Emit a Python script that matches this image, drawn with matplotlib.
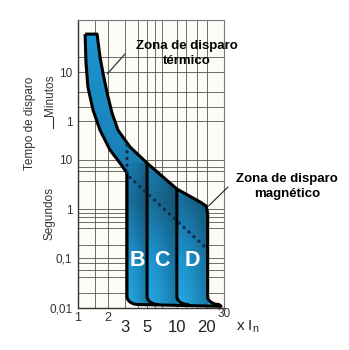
import numpy as np
import matplotlib
matplotlib.use("Agg")
import matplotlib.pyplot as plt
from matplotlib.path import Path
from matplotlib.patches import PathPatch
from matplotlib.colors import LinearSegmentedColormap
from matplotlib.lines import Line2D

plt.rcParams["font.family"] = ["Liberation Sans", "DejaVu Sans"]

# thermal band (x = multiples of In, t in seconds)
upper_x = [1.56, 1.67, 1.79, 1.97, 2.21, 2.54, 3.36, 4.99, 7.25, 10.0, 17.2, 19.8]
upper_t = [3570, 1220, 577, 227, 89, 40, 18.2, 8.6, 4.47, 2.55, 1.39, 1.15]
lower_x = [1.18, 1.205, 1.26, 1.42, 1.67, 2.11, 2.66, 3.13]
lower_t = [3570, 921, 300, 102, 40, 15.8, 8.6, 5.4]

# magnetic limits of the B / C / D curves
mag_x = [3.13, 5.0, 10.0, 20.5]
mag_names = ["B", "C", "D"]
d_top_t = 0.83        # where the D edge starts to drop
t_knee = 0.0168       # bottom rounding starts
t_floor = 0.0115      # bottom line of the curves
tail_x = 28

# dotted line (inner limit)
dot_x = [3.13, 3.13, 19.3]
dot_t = [20, 5.0, 0.17]

# grid and ticks
grid_x = [1.5, 2, 3, 4, 5, 6, 7, 10, 12.5, 16, 20]
grid_t = [0.02, 0.042, 0.057, 0.08, 0.1, 0.19, 0.41, 0.55, 0.7, 0.84, 1,
          3.7, 5.8, 7.3, 10, 60, 120, 240, 600, 1200]
ytick_t = [600, 60, 10, 1, 0.1, 0.01]
ytick_lbl = ["10", "1", "10", "1", "0,1", "0,01"]
xtick_big = [3, 5, 10, 20]
xtick_small = [1, 2]

XMIN, XMAX, TMIN, TMAX = 1, 30, 0.01, 6900


def corner(x0, t0, x1, t1, n=10):
    # quarter ellipse in log space: vertical tangent at start, horizontal at end
    a = np.linspace(0, np.pi / 2, n)
    lx0, lt0, lx1, lt1 = np.log10([x0, t0, x1, t1])
    lx = lx1 - (lx1 - lx0) * np.cos(a)
    lt = lt0 - (lt0 - lt1) * np.sin(a)
    return list(10 ** lx), list(10 ** lt)


def xfrac(v):
    return np.log10(v / XMIN) / np.log10(XMAX / XMIN)


fig = plt.figure(figsize=(3.49, 3.50), dpi=100)
ax = fig.add_axes([78 / 349, 42.5 / 350, 146 / 349, 287.5 / 350])
ax.set_xscale("log")
ax.set_yscale("log")
ax.set_facecolor("#fcfbf6")

for gx in grid_x:
    ax.axvline(gx, color="#555555", lw=0.6, zorder=1)
for gt in grid_t:
    ax.axhline(gt, color="#555555", lw=0.6, zorder=1)

# outline of the whole zone
xs, ts = [], []
xs += lower_x[:1] + upper_x
ts += lower_t[:1] + upper_t
xs += [mag_x[-1], mag_x[-1]]
ts += [d_top_t, t_knee]
cx, ct = corner(mag_x[-1], t_knee, mag_x[-1] * 1.3, t_floor)
xs += cx + [tail_x]
ts += ct + [t_floor * 0.92]
cx, ct = corner(mag_x[0], t_knee, mag_x[0] * 1.3, t_floor)
xs += cx[::-1] + [mag_x[0]]
ts += ct[::-1] + [lower_t[-1]]
xs += lower_x[::-1]
ts += lower_t[::-1]
outline = Path(np.column_stack([xs, ts]))

clip = PathPatch(outline, facecolor="none", edgecolor="none",
                 transform=ax.transData)
ax.add_patch(clip)
cmap = LinearSegmentedColormap.from_list("blu", [
    (0.0, "#24a8e4"), (0.15, "#1f9ad6"), (0.37, "#1a6f9c"),
    (0.55, "#1b82b9"), (1.0, "#1c98d4")])
grad = np.linspace(0, 1, 256).reshape(-1, 1)
im = ax.imshow(grad, cmap=cmap, origin="lower", extent=[0, 1, 0, 1],
               transform=ax.transAxes, aspect="auto", zorder=2)
im.set_clip_path(clip)

# each B/C/D strip gets darker towards its right edge
shade = np.zeros((1, 64, 4))
shade[0, :, 3] = np.linspace(0.0, 0.28, 64) ** 1.5 / 0.28 ** 0.5
for a, b in zip(mag_x[:-1], mag_x[1:]):
    sh = ax.imshow(shade, extent=[xfrac(a), xfrac(b), 0, 0.5],
                   transform=ax.transAxes, aspect="auto", zorder=3)
    sh.set_clip_path(clip)
ax.set_xlim(XMIN, XMAX)
ax.set_ylim(TMIN, TMAX)

ax.add_patch(PathPatch(outline, facecolor="none", edgecolor="black", lw=2.2,
                       joinstyle="round", zorder=4))

# inner limits at 5 and 10 In
lux, lut = np.log10(upper_x), np.log10(upper_t)
for mx in mag_x[1:3]:
    top = 10 ** np.interp(np.log10(mx), lux, lut)
    cx, ct = corner(mx, t_knee, mx * 1.3, t_floor)
    ax.plot([mx] + cx, [top] + ct, color="black", lw=2.2,
            solid_capstyle="round", zorder=4)

ax.plot(dot_x, dot_t, color="#0d2a4a", lw=2.3, ls=(0, (0.1, 2.0)),
        dash_capstyle="round", zorder=5)

for name, a, b in zip(mag_names, mag_x[:-1], mag_x[1:]):
    ax.text(np.sqrt(a * b), 0.092, name, color="white", fontsize=15.5,
            fontweight="bold", ha="center", va="center", zorder=6)

# axes cosmetics
for side in ["top", "right"]:
    ax.spines[side].set_color("#777777")
    ax.spines[side].set_linewidth(0.8)
for side in ["left", "bottom"]:
    ax.spines[side].set_color("#333333")
    ax.spines[side].set_linewidth(1.0)
ax.minorticks_off()
ax.set_xticks([])
ax.set_yticks(ytick_t, ytick_lbl)
ax.tick_params(axis="y", length=0, pad=4, labelsize=8.5, labelcolor="#333333")

xt = ax.get_xaxis_transform()
for v in xtick_small:
    ax.text(v, -0.036, str(v), transform=xt, ha="center", va="center",
            fontsize=9, color="#333333", clip_on=False)
for v in xtick_big:
    ax.text(v, -0.068, str(v), transform=xt, ha="center", va="center",
            fontsize=12, color="#222222", clip_on=False)
ax.text(30, -0.024, "30", transform=xt, ha="center", va="center",
        fontsize=8.5, color="#333333", clip_on=False)
fig.text(248 / 349, 1 - 327 / 350, r"x I$_\mathregular{n}$", ha="center",
         va="center", fontsize=11, color="#222222")

# axis titles
fig.text(30 / 349, 1 - 123 / 350, "Tempo de disparo", rotation=90,
         ha="center", va="center", fontsize=8.5, color="#333333")
fig.text(50 / 349, 1 - 95 / 350, "Minutos", rotation=90,
         ha="center", va="center", fontsize=8.5, color="#333333")
fig.text(50 / 349, 1 - 214 / 350, "Segundos", rotation=90,
         ha="center", va="center", fontsize=8.5, color="#333333")
fig.add_artist(Line2D([53 / 349, 53 / 349], [1 - 117 / 350, 1 - 128 / 350],
                      color="#333333", lw=0.8, transform=fig.transFigure))

# zone labels with leader lines
fig.text(187 / 349, 1 - 53.5 / 350, "Zona de disparo\ntérmico",
         ha="center", va="center", fontsize=9.5, fontweight="bold",
         linespacing=1.25)
ax.annotate("", xy=(1.97, 551), xytext=(125, 350 - 54),
            textcoords="figure pixels",
            arrowprops=dict(arrowstyle="-", color="#222222", lw=0.8,
                            shrinkA=0, shrinkB=0))
fig.text(287 / 349, 1 - 186.5 / 350, "Zona de disparo\nmagnético",
         ha="center", va="center", fontsize=9.5, fontweight="bold",
         linespacing=1.25)
ax.annotate("", xy=(20.9, 1.15), xytext=(228, 350 - 187),
            textcoords="figure pixels",
            arrowprops=dict(arrowstyle="-", color="#222222", lw=0.8,
                            shrinkA=0, shrinkB=0))

fig.savefig("out.png", dpi=100)
